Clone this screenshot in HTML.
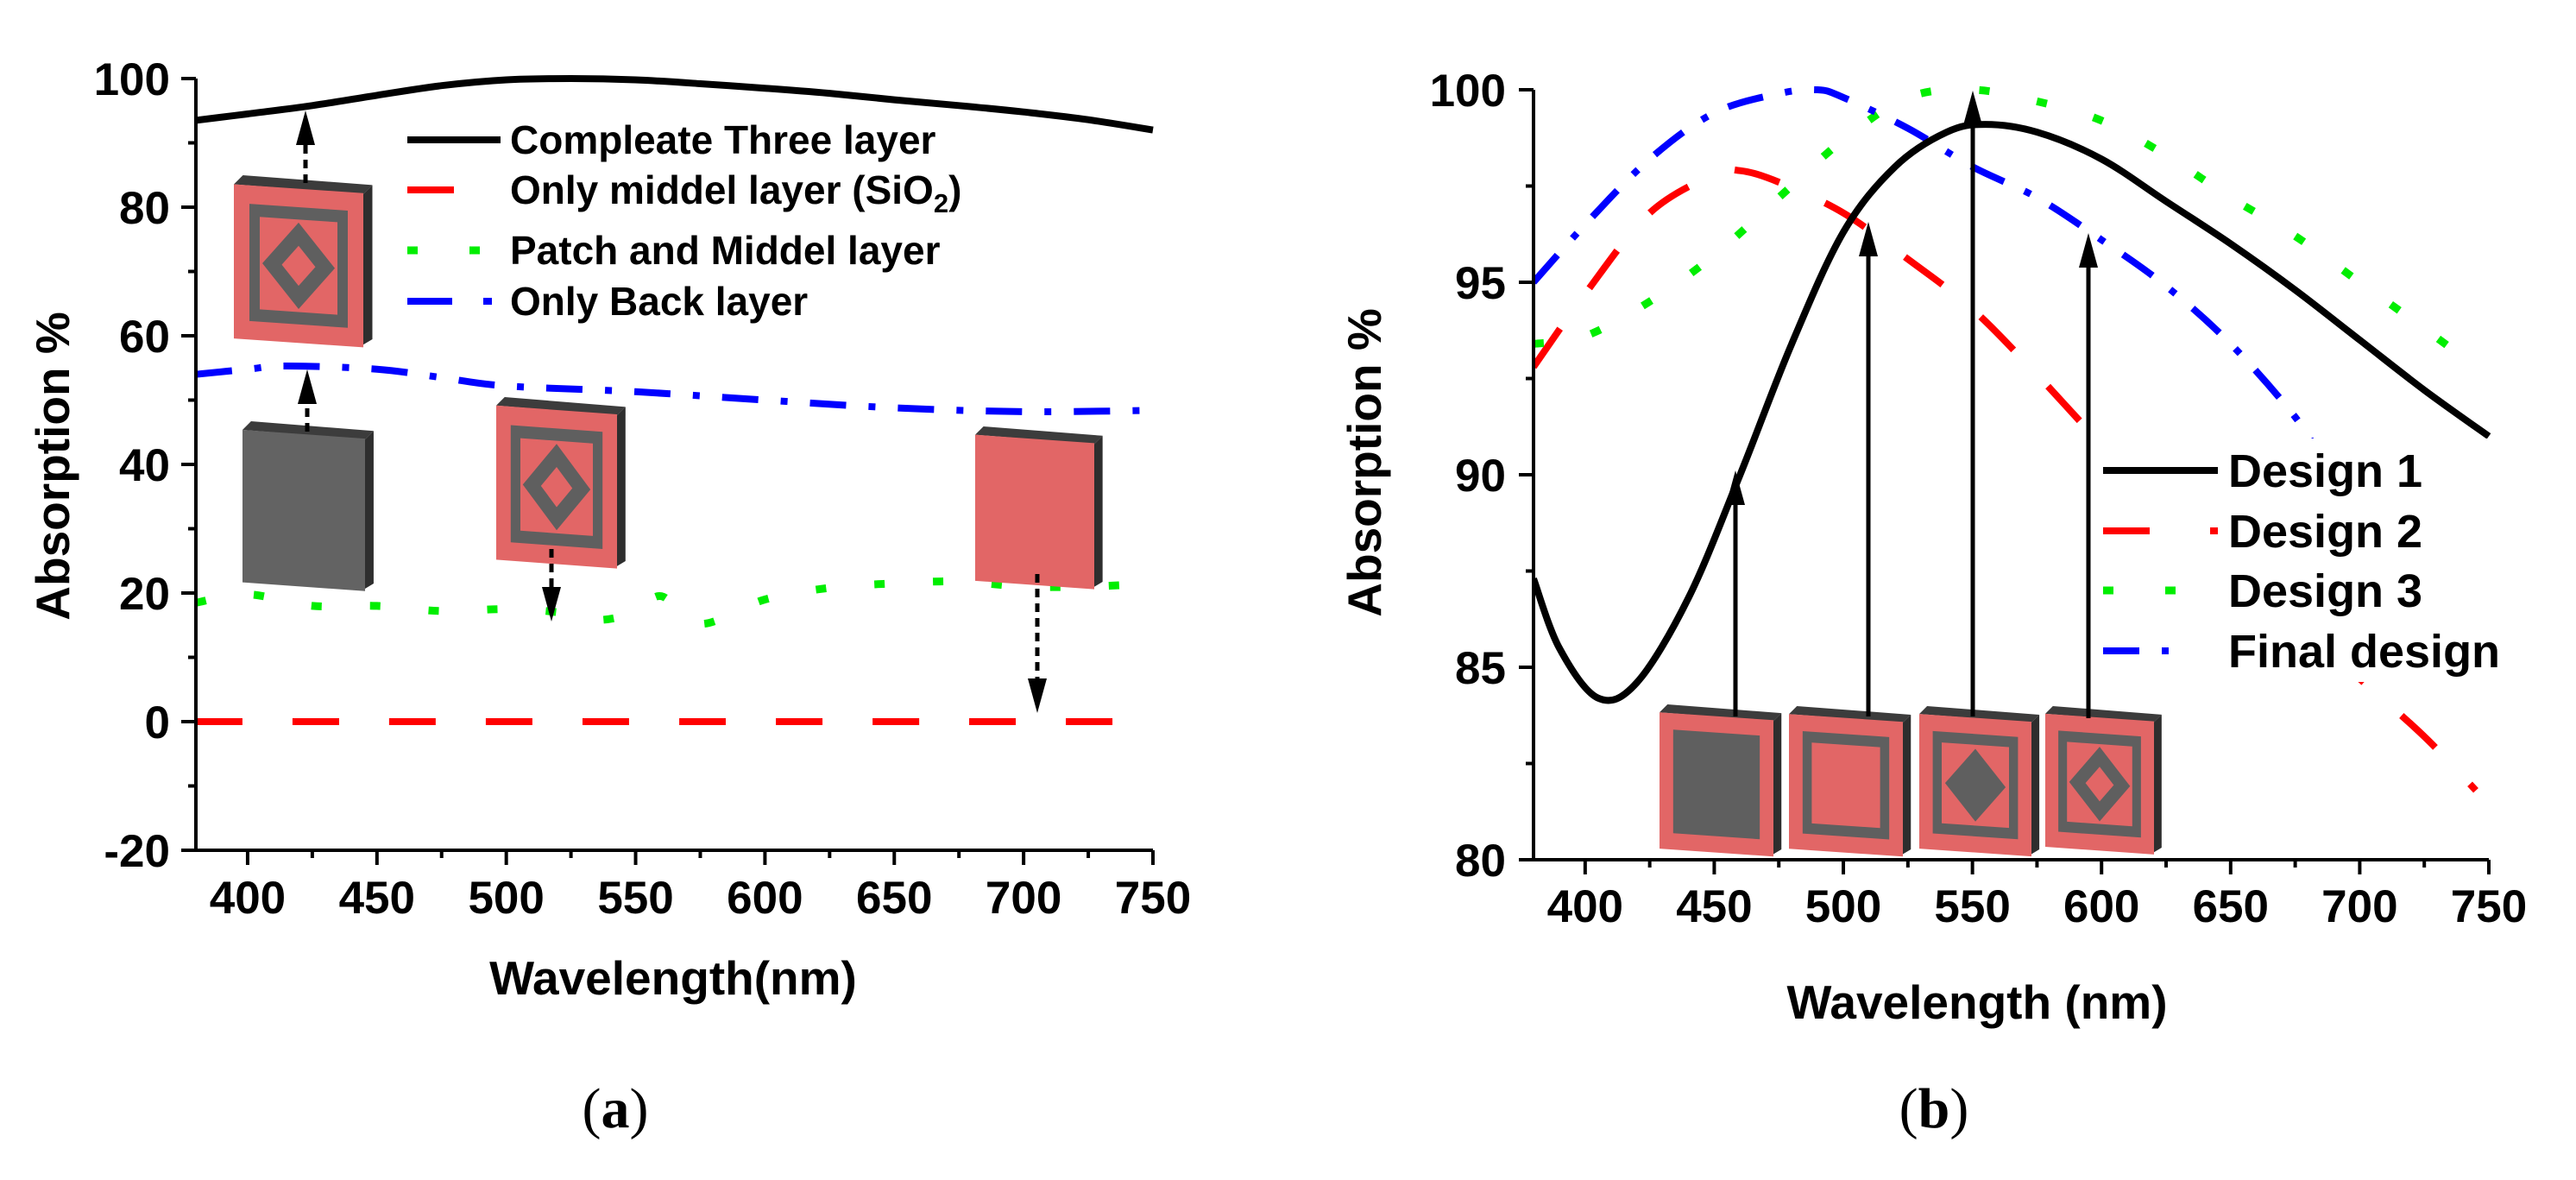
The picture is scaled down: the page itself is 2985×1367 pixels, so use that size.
<!DOCTYPE html>
<html><head><meta charset="utf-8"><style>
html,body{margin:0;padding:0;background:#fff;}
svg{display:block;font-family:"Liberation Sans",Arial,sans-serif;}
</style></head><body>
<svg id="fig" width="2985" height="1367" viewBox="0 0 2985 1367" xmlns="http://www.w3.org/2000/svg">
</svg>
<script>
// ---------- Panel (a) data ----------
const aBlackX = [380,400,425,450,475,500,525,550,575,600,625,650,675,700,725,750];
const aBlackY = [93.5,94.5,95.8,97.4,98.9,99.8,100,99.8,99.2,98.5,97.7,96.7,95.8,94.8,93.6,92];
const aRedX = [380,735];
const aRedY = [0,0];
const aGreenX = [380,400,425,450,475,500,520,535,550,560,575,600,625,650,675,700,725,750];
const aGreenY = [18.5,19.8,18,18,17.2,17.5,17,15.8,17,19.5,15.2,19,20.8,21.5,21.8,21,21,21.5];
const aBlueX = [380,400,415,450,475,500,550,600,650,700,750];
const aBlueY = [54,54.8,55.3,54.8,53.5,52.2,51.3,50,48.8,48.2,48.4];
const aXTicks = [400,450,500,550,600,650,700,750];
const aYTicks = [-20,0,20,40,60,80,100];
const aLegend = ["Compleate Three layer","Only middel layer (SiO","Patch and Middel layer","Only Back layer"];
// ---------- Panel (b) data ----------
const bBlackX = [380,390,405,420,440,460,480,500,520,540,555,575,600,625,650,675,700,725,750];
const bBlackY = [87.3,85.5,84.2,84.6,86.8,90,93.4,96.3,98,98.9,99.1,98.9,98.2,97.1,96.0,94.8,93.5,92.2,91];
const bRedX = [380,400,425,450,460,475,500,525,550,575,600,625,650,675,700,725,745];
const bRedY = [92.8,94.7,96.8,97.8,97.9,97.6,96.8,95.6,94.3,92.6,90.8,89.2,87.7,86.2,84.7,83.2,81.8];
const bGreenX = [380,400,425,450,475,500,525,550,575,600,625,650,675,700,725,745];
const bGreenY = [93.4,93.6,94.5,95.7,97.2,98.7,99.8,100,99.7,99.2,98.3,97.2,96.2,95,93.8,92.8];
const bBlueX = [380,400,425,450,475,490,500,525,550,575,600,625,650,675,685];
const bBlueY = [95,96.5,98.2,99.4,99.9,100,99.8,99,98,97.2,96.1,94.9,93.4,91.5,90.4];
const bXTicks = [400,450,500,550,600,650,700,750];
const bYTicks = [80,85,90,95,100];
const bLegend = ["Design 1","Design 2","Design 3","Final design"];

const NS = "http://www.w3.org/2000/svg";
const svg = document.getElementById('fig');
function el(tag, attrs, parent){ const e=document.createElementNS(NS,tag); for(const k in attrs) e.setAttribute(k,attrs[k]); (parent||svg).appendChild(e); return e; }

function smoothPath(pts){
  let d = "M"+pts[0][0].toFixed(1)+","+pts[0][1].toFixed(1);
  for(let i=0;i<pts.length-1;i++){
    const p0=pts[i-1]||pts[i], p1=pts[i], p2=pts[i+1], p3=pts[i+2]||p2;
    const c1=[p1[0]+(p2[0]-p0[0])/6, p1[1]+(p2[1]-p0[1])/6];
    const c2=[p2[0]-(p3[0]-p1[0])/6, p2[1]-(p3[1]-p1[1])/6];
    d += " C"+c1[0].toFixed(1)+","+c1[1].toFixed(1)+" "+c2[0].toFixed(1)+","+c2[1].toFixed(1)+" "+p2[0].toFixed(1)+","+p2[1].toFixed(1);
  }
  return d;
}

function makeAxes(g, P, xTicks, yTicks, yMinor){
  const fx=P.fx, fy=P.fy;
  el('line',{x1:P.x0,y1:P.y1,x2:P.x0,y2:P.y0,stroke:'#000','stroke-width':4},g);
  el('line',{x1:P.x0,y1:P.y0,x2:P.x1,y2:P.y0,stroke:'#000','stroke-width':4},g);
  for(const t of xTicks){
    const x=fx(t);
    el('line',{x1:x,y1:P.y0,x2:x,y2:P.y0+17,stroke:'#000','stroke-width':4},g);
    const tx=el('text',{x:x,y:P.xLabY,'font-size':53,'font-weight':'bold','text-anchor':'middle'},g);
    tx.textContent=t;
    
    
  }
  for(let i=0;i<xTicks.length;i++){
    const m=xTicks[i]-25; if(m>P.xmin){ const x=fx(m); el('line',{x1:x,y1:P.y0,x2:x,y2:P.y0+9,stroke:'#000','stroke-width':4},g); }
  }
  for(const t of yTicks){
    const y=fy(t);
    el('line',{x1:P.x0,y1:y,x2:P.x0-17,y2:y,stroke:'#000','stroke-width':4},g);
    const ty=el('text',{x:P.yLabX,y:y+19,'font-size':53,'font-weight':'bold','text-anchor':'end'},g);
    ty.textContent=t;
    
    
  }
  for(let i=0;i<yTicks.length-1;i++){
    const y=fy(yTicks[i]+yMinor);
    el('line',{x1:P.x0,y1:y,x2:P.x0-9,y2:y,stroke:'#000','stroke-width':4},g);
  }
}

function series(g,P,xs,ys,style,name){
  const pts=xs.map((x,i)=>[P.fx(x),P.fy(ys[i])]);
  const p=el('path',Object.assign({d:smoothPath(pts),fill:'none'},style),g);
  
  
}

const S_BLACK={stroke:'#000','stroke-width':8};
const S_RED={stroke:'#ff0000','stroke-width':8,'stroke-dasharray':'54 58'};
const S_GREEN={stroke:'#00ee00','stroke-width':9,'stroke-dasharray':'12 56'};
const S_BLUE={stroke:'#0000ff','stroke-width':8,'stroke-dasharray':'42 26 8 26'};

function plate(g,x,y,w,h,type,name){
  const grp=el('g',{},g);
  
  
  const d=w*0.07, s=h*0.06;
  el('polygon',{points:`${x},${y+d} ${x+d},${y} ${x+w+d},${y+s} ${x+w},${y+s+d}`,fill:'#3c3c3c'},grp);
  el('polygon',{points:`${x+w},${y+s+d} ${x+w+d},${y+s} ${x+w+d},${y+h} ${x+w},${y+h+d*0.6}`,fill:'#2e2e2e'},grp);
  const fw=w, fh=h-s;
  const fxp=(u,v)=>[x+u*fw, y+d+v*fh+u*s*0.9];
  const poly=(arr,fill)=>el('polygon',{points:arr.map(a=>fxp(a[0],a[1]).join(',')).join(' '),fill:fill},grp);
  const sq=(a,b,fill)=>poly([[a,a],[b,a],[b,b],[a,b]],fill);
  const dm=(c,r,fill)=>poly([[c-r,c],[c,c-r],[c+r,c],[c,c+r]],fill);
  const RED='#e26666', GREY='#5f5f5f';
  if(type==='grey'){ sq(0,1,'#636363'); return; }
  sq(0,1,RED);
  if(type==='red') return;
  if(type==='d1'){ sq(0.12,0.88,GREY); return; }
  sq(0.12,0.88,GREY); sq(0.2,0.8,RED);
  if(type==='d2') return;
  if(type==='d3'){ dm(0.5,0.27,GREY); return; }
  dm(0.5,0.28,GREY); dm(0.5,0.13,RED);
}
function arrow(g,x,y1,y2,dashed,name){
  const dir = y2<y1 ? 1 : -1;
  const l=el('line',{x1:x,y1:y1,x2:x,y2:y2+dir*14,stroke:'#000','stroke-width':5},g);
  if(dashed) l.setAttribute('stroke-dasharray','10 7');
  el('polygon',{points:`${x},${y2} ${x-11},${y2+dir*40} ${x+11},${y2+dir*40}`,fill:'#000'},g);
  
  
}

// ---------------- Panel A ----------------
const PA={xmin:380,xmax:750,ymin:-20,ymax:100,x0:227,x1:1336,y0:985,y1:91,xLabY:1058,yLabX:197};
PA.fx=v=>PA.x0+(v-PA.xmin)/(PA.xmax-PA.xmin)*(PA.x1-PA.x0);
PA.fy=v=>PA.y0-(v-PA.ymin)/(PA.ymax-PA.ymin)*(PA.y0-PA.y1);
const gA=el('g',{});


const clipA=el('clipPath',{id:'clipA'},gA); el('rect',{x:PA.x0,y:PA.y1-10,width:PA.x1-PA.x0+6,height:PA.y0-PA.y1+10},clipA);
const dA=el('g',{'clip-path':'url(#clipA)'},gA);
series(dA,PA,aRedX,aRedY,S_RED,'series-only-middle-layer');
series(dA,PA,aGreenX,aGreenY,S_GREEN,'series-patch-middle-layer');
series(dA,PA,aBlueX,aBlueY,S_BLUE,'series-only-back-layer');
series(dA,PA,aBlackX,aBlackY,S_BLACK,'series-complete-three-layer');
makeAxes(gA,PA,aXTicks,aYTicks,10);
plate(gA,271,203,150,190,'d4','inset-three-layer');
plate(gA,281,488,142,188,'grey','inset-back-layer');
plate(gA,575,460,140,190,'d4','inset-patch-middle');
plate(gA,1130,494,138,180,'red','inset-middle-layer');
arrow(gA,354,212,128,true,'arrow-to-complete');
arrow(gA,356,500,428,true,'arrow-to-back');
arrow(gA,639,636,720,true,'arrow-to-patch');
arrow(gA,1202,665,826,true,'arrow-to-middle');
const legA=el('g',{},gA);


const legAY=[162,220,290,349], legAS=[S_BLACK,S_RED,S_GREEN,S_BLUE];
for(let i=0;i<4;i++){
  const st=Object.assign({},legAS[i]);
  if(i===1) st['stroke-dasharray']='54 200';
  if(i===2) st['stroke-dasharray']='12 60';
  if(i===3) st['stroke-dasharray']='52 36 10 60';
  el('line',Object.assign({x1:472,y1:legAY[i],x2:580,y2:legAY[i]},st),legA);
  const t=el('text',{x:591,y:legAY[i]+16,'font-size':46,'font-weight':'bold'},legA);
  t.textContent=aLegend[i];
  if(i===1){ const s1=el('tspan',{'font-size':31,dy:10},t); s1.textContent='2'; const s2=el('tspan',{dy:-10},t); s2.textContent=')'; }
  
  
}
let t;
t=el('text',{x:780,y:1152,'font-size':55,'font-weight':'bold','text-anchor':'middle'},gA); t.textContent='Wavelength(nm)';
 
t=el('text',{x:0,y:0,'font-size':55,'font-weight':'bold','text-anchor':'middle',transform:'translate(80,540) rotate(-90)'},gA); t.textContent='Absorption %';
 
t=el('text',{x:713,y:1306,'font-size':66,'text-anchor':'middle','font-family':'Liberation Serif, serif'},gA);
t.innerHTML='(<tspan font-weight="bold">a</tspan>)';
 

// ---------------- Panel B ----------------
const PB={xmin:380,xmax:750,ymin:80,ymax:100,x0:1777,x1:2884,y0:996,y1:104,xLabY:1068,yLabX:1745};
PB.fx=v=>PB.x0+(v-PB.xmin)/(PB.xmax-PB.xmin)*(PB.x1-PB.x0);
PB.fy=v=>PB.y0-(v-PB.ymin)/(PB.ymax-PB.ymin)*(PB.y0-PB.y1);
const gB=el('g',{});


const clipB=el('clipPath',{id:'clipB'},gB); el('rect',{x:PB.x0,y:PB.y1-10,width:PB.x1-PB.x0+6,height:PB.y0-PB.y1+10},clipB);
const dB=el('g',{'clip-path':'url(#clipB)'},gB);
series(dB,PB,bRedX,bRedY,S_RED,'series-design-2');
series(dB,PB,bGreenX,bGreenY,S_GREEN,'series-design-3');
series(dB,PB,bBlueX,bBlueY,S_BLUE,'series-final-design');
series(dB,PB,bBlackX,bBlackY,S_BLACK,'series-design-1');
makeAxes(gB,PB,bXTicks,bYTicks,2.5);
const legB=el('g',{},gB);


el('rect',{x:2430,y:508,width:455,height:282,fill:'#fff'},legB);
const legBY=[545,615,684,754];
for(let i=0;i<4;i++){
  const st=Object.assign({},legAS[i]);
  if(i===1) st['stroke-dasharray']='54 70 10 40';
  if(i===2) st['stroke-dasharray']='12 60';
  if(i===3) st['stroke-dasharray']='42 26 8 60';
  el('line',Object.assign({x1:2437,y1:legBY[i],x2:2570,y2:legBY[i]},st),legB);
  const tt=el('text',{x:2582,y:legBY[i]+19,'font-size':54,'font-weight':'bold'},legB);
  tt.textContent=bLegend[i];
  
  
}
plate(gB,1923,816,132,168,'d1','inset-design-1');
plate(gB,2073,818,132,166,'d2','inset-design-2');
plate(gB,2224,818,130,166,'d3','inset-design-3');
plate(gB,2370,818,126,164,'d4','inset-final-design');
arrow(gB,2011,830,545,false,'arrow-design-1');
arrow(gB,2165,830,257,false,'arrow-design-2');
arrow(gB,2286,830,105,false,'arrow-design-3');
arrow(gB,2420,832,270,false,'arrow-final-design');
t=el('text',{x:2291,y:1180,'font-size':55,'font-weight':'bold','text-anchor':'middle'},gB); t.textContent='Wavelength (nm)';
 
t=el('text',{x:0,y:0,'font-size':55,'font-weight':'bold','text-anchor':'middle',transform:'translate(1600,536) rotate(-90)'},gB); t.textContent='Absorption %';
 
t=el('text',{x:2241,y:1306,'font-size':66,'text-anchor':'middle','font-family':'Liberation Serif, serif'},gB);
t.innerHTML='(<tspan font-weight="bold">b</tspan>)';
 
</script>
</body></html>
